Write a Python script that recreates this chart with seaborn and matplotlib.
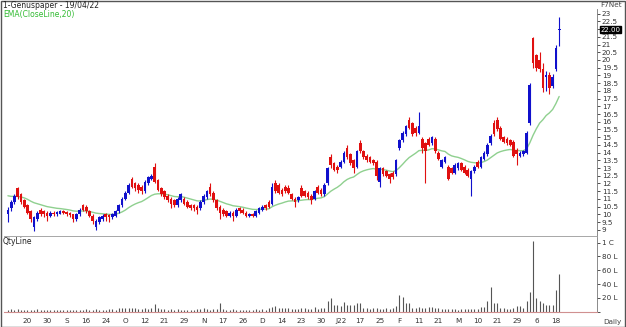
import numpy as np
import matplotlib
matplotlib.use("Agg")
import matplotlib.pyplot as plt
import seaborn as sns

opens = [10.0, 10.4, 10.8, 11.7, 11.3, 10.9, 10.6, 10.2, 9.2, 9.7,
         10.3, 10.2, 10.1, 9.9, 10.1, 10.0, 10.05, 10.2, 10.15, 10.1,
         10.0, 9.7, 10.0, 10.6, 10.5, 10.2, 9.9, 9.2, 9.5, 9.7,
         10.0, 9.95, 9.8, 9.9, 10.2, 10.6, 11.0, 11.4, 12.3, 12.0,
         11.9, 11.8, 11.5, 12.0, 12.3, 13.1, 12.2, 11.7, 11.5, 11.2,
         11.0, 10.9, 10.6, 10.9, 11.0, 10.8, 10.6, 10.6, 10.5, 10.4,
         10.8, 11.1, 11.8, 11.4, 10.9, 10.5, 10.3, 10.2, 9.9, 10.1,
         9.9, 10.4, 10.3, 10.1, 9.9, 10.0, 9.9, 10.1, 10.3, 10.6,
         10.8, 10.7, 12.0, 11.9, 11.6, 11.8, 11.7, 11.3, 11.0, 10.9,
         11.7, 11.5, 11.4, 11.2, 11.0, 11.8, 11.6, 11.3, 12.0, 13.7,
         13.3, 13.1, 13.1, 13.4, 14.3, 13.9, 13.5, 13.1, 14.6, 14.1,
         13.8, 13.7, 13.5, 13.4, 12.1, 13.0, 12.8, 12.6, 12.7, 12.6,
         14.3, 14.8, 15.2, 16.1, 15.9, 15.6, 15.3, 14.9, 14.6, 14.9,
         14.6, 14.9, 14.0, 13.1, 13.4, 13.1, 13.0, 12.7, 13.0, 13.3,
         13.1, 12.9, 12.3, 12.8, 13.4, 13.1, 13.6, 13.9, 14.6, 15.9,
         16.1, 15.6, 15.0, 14.9, 14.8, 14.7, 14.2, 13.8, 13.9, 14.0,
         15.9, 21.4, 20.3, 20.0, 19.4, 18.9, 19.0, 18.3, 19.4, 21.95]
closes = [10.3, 10.8, 11.2, 11.1, 10.8, 10.5, 10.1, 9.7, 9.8, 10.1,
          10.0, 10.0, 9.9, 10.1, 10.0, 10.15, 10.2, 10.1, 10.0, 9.95,
          9.7, 10.0, 10.3, 10.3, 10.2, 9.9, 9.6, 9.6, 9.8, 9.9,
          9.8, 9.8, 10.0, 10.2, 10.6, 11.0, 11.4, 11.9, 11.8, 11.7,
          11.6, 11.5, 12.1, 12.4, 12.5, 12.1, 11.6, 11.3, 11.1, 10.9,
          10.7, 10.6, 11.0, 11.3, 10.7, 10.5, 10.4, 10.4, 10.3, 10.8,
          11.2, 11.5, 11.3, 10.9, 10.4, 10.1, 10.0, 9.9, 10.1, 9.9,
          10.3, 10.2, 10.1, 9.9, 10.0, 9.9, 10.2, 10.4, 10.5, 10.4,
          10.5, 11.8, 11.5, 11.4, 11.3, 11.5, 11.4, 11.0, 10.8, 11.1,
          11.2, 11.2, 11.1, 10.9, 11.5, 11.4, 11.3, 11.9, 13.0, 13.2,
          12.9, 12.9, 13.4, 14.0, 13.7, 13.3, 13.0, 14.1, 14.1, 13.7,
          13.5, 13.4, 13.3, 12.5, 13.0, 12.6, 12.5, 12.3, 12.4, 13.5,
          14.8, 15.3, 15.7, 15.6, 15.2, 15.3, 15.7, 14.3, 14.1, 14.5,
          15.0, 14.1, 13.6, 13.5, 13.7, 12.3, 12.7, 13.2, 13.3, 12.9,
          12.7, 12.5, 12.8, 13.1, 13.1, 13.7, 14.0, 14.5, 15.1, 15.2,
          15.5, 14.9, 14.7, 14.6, 14.5, 13.8, 13.9, 14.0, 14.1, 15.3,
          18.4, 19.8, 19.5, 19.4, 18.2, 19.0, 18.2, 18.9, 20.8, 22.0]
highs = [10.5, 10.9, 11.3, 11.8, 11.4, 11.0, 10.7, 10.3, 9.9, 10.2,
         10.4, 10.3, 10.2, 10.2, 10.2, 10.25, 10.3, 10.3, 10.2, 10.15,
         10.05, 10.1, 10.4, 10.7, 10.6, 10.3, 10.0, 9.7, 9.9, 10.0,
         10.1, 10.0, 10.1, 10.3, 10.7, 11.1, 11.5, 12.0, 12.4, 12.1,
         12.0, 11.9, 12.2, 12.5, 12.6, 13.3, 12.3, 11.8, 11.6, 11.3,
         11.1, 11.0, 11.1, 11.4, 11.1, 10.9, 10.7, 10.7, 10.6, 10.9,
         11.3, 11.6, 12.0, 11.5, 11.0, 10.6, 10.4, 10.3, 10.2, 10.2,
         10.4, 10.5, 10.4, 10.2, 10.1, 10.1, 10.3, 10.5, 10.6, 10.7,
         10.9, 12.0, 12.2, 12.0, 11.7, 11.9, 11.9, 11.4, 11.1, 11.2,
         11.9, 11.6, 11.5, 11.3, 11.6, 11.9, 11.7, 12.0, 13.1, 13.9,
         13.4, 13.2, 13.5, 14.1, 14.5, 14.0, 13.6, 14.2, 14.8, 14.2,
         13.9, 13.8, 13.6, 13.5, 13.1, 13.1, 12.9, 12.7, 12.8, 13.6,
         14.9, 15.4, 15.8, 16.3, 16.0, 15.7, 16.6, 15.0, 14.7, 15.0,
         15.1, 15.0, 14.1, 13.6, 13.8, 13.2, 13.1, 13.3, 13.4, 13.4,
         13.2, 13.0, 12.9, 13.2, 13.5, 13.8, 14.1, 14.6, 15.2, 16.1,
         16.3, 15.7, 15.1, 15.0, 14.9, 14.8, 14.3, 14.1, 14.2, 15.4,
         18.5, 21.5, 20.4, 20.5, 19.8, 19.3, 19.2, 19.1, 21.0, 22.8]
lows = [9.5, 10.2, 10.7, 11.0, 10.7, 10.4, 10.0, 9.5, 8.9, 9.6,
        9.9, 9.8, 9.6, 9.8, 9.9, 9.9, 10.0, 10.0, 9.9, 9.85,
        9.5, 9.6, 9.9, 10.2, 10.1, 9.8, 9.4, 9.0, 9.4, 9.6,
        9.6, 9.5, 9.7, 9.8, 10.1, 10.5, 10.9, 11.3, 11.7, 11.5,
        11.4, 11.3, 11.4, 11.9, 12.2, 12.0, 11.5, 11.2, 11.0, 10.8,
        10.4, 10.5, 10.5, 10.8, 10.6, 10.4, 10.3, 10.2, 10.0, 10.3,
        10.7, 11.0, 11.2, 10.8, 10.3, 9.7, 9.9, 9.8, 9.8, 9.6,
        9.8, 10.1, 10.0, 9.8, 9.8, 9.8, 9.8, 10.0, 10.2, 10.3,
        10.4, 10.6, 11.4, 11.3, 11.2, 11.4, 11.3, 10.9, 10.5, 10.8,
        11.1, 11.1, 11.0, 10.7, 10.9, 11.3, 11.2, 11.2, 11.9, 13.0,
        12.8, 12.7, 13.0, 13.3, 13.6, 13.2, 12.7, 13.0, 14.0, 13.6,
        13.4, 13.3, 13.2, 12.2, 11.8, 12.5, 12.4, 12.0, 12.3, 12.5,
        14.2, 14.7, 15.1, 15.5, 15.1, 15.1, 15.2, 14.0, 12.0, 14.4,
        14.5, 14.0, 13.5, 13.0, 13.3, 12.2, 12.6, 12.6, 12.9, 12.8,
        12.6, 12.4, 11.2, 12.7, 13.0, 13.0, 13.5, 13.8, 14.5, 15.1,
        15.4, 14.8, 14.6, 14.5, 14.4, 13.7, 13.2, 13.7, 13.8, 13.9,
        15.8, 19.5, 19.3, 19.2, 17.9, 18.0, 17.8, 18.2, 19.3, 20.9]
volumes = [3, 4, 3, 4, 3, 3, 2, 3, 3, 4, 2, 3, 3, 2, 2, 3, 3, 2, 3, 2,
           3, 2, 3, 3, 4, 2, 3, 4, 3, 3, 3, 4, 4, 3, 5, 5, 5, 6, 5, 5,
           4, 4, 5, 4, 5, 11, 5, 4, 4, 3, 4, 3, 4, 3, 3, 3, 3, 3, 4, 4,
           5, 4, 3, 4, 4, 12, 4, 3, 3, 4, 3, 3, 3, 3, 2, 3, 4, 3, 4, 3,
           5, 7, 8, 6, 5, 5, 5, 4, 4, 4, 5, 5, 4, 4, 7, 4, 5, 6, 15, 20,
           10, 9, 8, 14, 10, 9, 10, 12, 12, 5, 5, 4, 5, 5, 4, 4, 5, 4, 6, 8,
           24, 21, 12, 12, 6, 6, 7, 6, 5, 7, 7, 6, 5, 4, 4, 4, 4, 4, 3, 4,
           4, 4, 4, 4, 4, 7, 7, 15, 36, 12, 12, 6, 5, 4, 4, 5, 8, 8, 5, 15,
           28, 102, 20, 16, 12, 10, 9, 10, 31, 55]
tick_labels = ["20", "30", "S", "16", "24", "O", "12", "21", "29", "N",
               "17", "26", "D", "14", "23", "30", "J22", "17", "25", "F",
               "11", "21", "M", "10", "21", "29", "6", "18"]
ema_seed = 11.3
last_price = 22.00

sns.set_style("white")
plt.rcParams['font.family'] = ['DejaVu Sans']

n = len(closes)
idx = np.arange(n)
o = np.array(opens); c = np.array(closes); h = np.array(highs); l = np.array(lows)

# EMA(Close,20)
ema = []
prev = ema_seed
alpha = 2.0 / 21.0
for cv in closes:
    prev = prev + alpha * (cv - prev)
    ema.append(prev)

W, H = 626, 327
fig = plt.figure(figsize=(W / 100, H / 100), dpi=100)
fig.patch.set_facecolor("white")

def rect(x0, y0, x1, y1):
    return [x0 / W, 1 - y1 / H, (x1 - x0) / W, (y1 - y0) / H]

ax = fig.add_axes(rect(4, 9, 597, 236))
axv = fig.add_axes(rect(4, 237, 597, 312), sharex=ax)

up = c >= o
red = "#e01010"
blue = "#1010cc"
cols = np.where(up, blue, red)

ax.vlines(idx, l, h, colors=cols, lw=0.8, zorder=3)
body_h = np.maximum(np.abs(c - o), 0.05)
ax.bar(idx, body_h, bottom=np.minimum(o, c), width=0.82, color=cols, lw=0, zorder=4)
sns.lineplot(x=idx, y=ema, ax=ax, color="#8fd08f", lw=1.0, zorder=2)

ax.set_xlim(-1.2, 180.6)
ax.set_ylim(8.6, 23.3)
ax.yaxis.tick_right()
yt = np.arange(9, 23.01, 0.5)
ax.set_yticks(yt)
ax.set_yticklabels([("%g" % v) if abs(v - last_price) > 0.01 else "" for v in yt])
ax.tick_params(axis="y", labelsize=5.2, length=2.5, width=0.6, pad=1,
               colors="#333333", direction="out")
ax.tick_params(axis="x", bottom=False, labelbottom=False)
for s in ["left", "top"]:
    ax.spines[s].set_visible(False)
ax.spines["right"].set_color("#777777")
ax.spines["right"].set_linewidth(0.6)
ax.spines["bottom"].set_color("#999999")
ax.spines["bottom"].set_linewidth(0.6)

ax.annotate("%.2f" % last_price, xy=(1, last_price), xycoords=("axes fraction", "data"),
            xytext=(2.5, -0.5), textcoords="offset points", va="center", ha="left",
            fontsize=5.0, color="white",
            bbox=dict(boxstyle="square,pad=0.05", fc="black", ec="black"))

# volume panel
axv.vlines(idx, 0, volumes, colors="#555555", lw=0.8)
axv.set_ylim(-0.5, 108)
axv.yaxis.tick_right()
axv.set_yticks([0, 20, 40, 60, 80, 100])
axv.set_yticklabels(["", "20 L", "40 L", "60 L", "80 L", "1 C"])
axv.tick_params(axis="y", labelsize=5.2, length=2.5, width=0.6, pad=1, colors="#333333")
tick_pos = [n - 2 - 6 * k for k in range(len(tick_labels))][::-1]
axv.set_xticks(tick_pos)
axv.set_xticklabels(tick_labels)
axv.tick_params(axis="x", labelsize=5.2, length=2, width=0.6, pad=2.5, colors="#333333")
for s in ["left", "top"]:
    axv.spines[s].set_visible(False)
axv.spines["right"].set_color("#777777")
axv.spines["right"].set_linewidth(0.6)
axv.spines["bottom"].set_color("#d09090")
axv.spines["bottom"].set_linewidth(0.8)

def ftext(x, y, s, **kw):
    fig.text(x / W, 1 - y / H, s, va="center", **kw)

ftext(3, 5, "1-Genuspaper - 19/04/22", fontsize=5.5, color="#222222")
ftext(3, 14, "EMA(CloseLine,20)", fontsize=5.5, color="#33bb33")
ftext(622, 5, "F7Net", fontsize=5.2, color="#444444", ha="right")
ftext(3, 241, "QtyLine", fontsize=5.5, color="#222222")
ftext(622, 322, "Daily", fontsize=5.2, color="#444444", ha="right")

border = plt.Rectangle((0.5 / W, 0.5 / H), 1 - 1.5 / W, 1 - 1.5 / H, transform=fig.transFigure,
                       fill=False, ec="#555555", lw=1.0)
fig.patches.append(border)

fig.savefig("out.png", dpi=100)
